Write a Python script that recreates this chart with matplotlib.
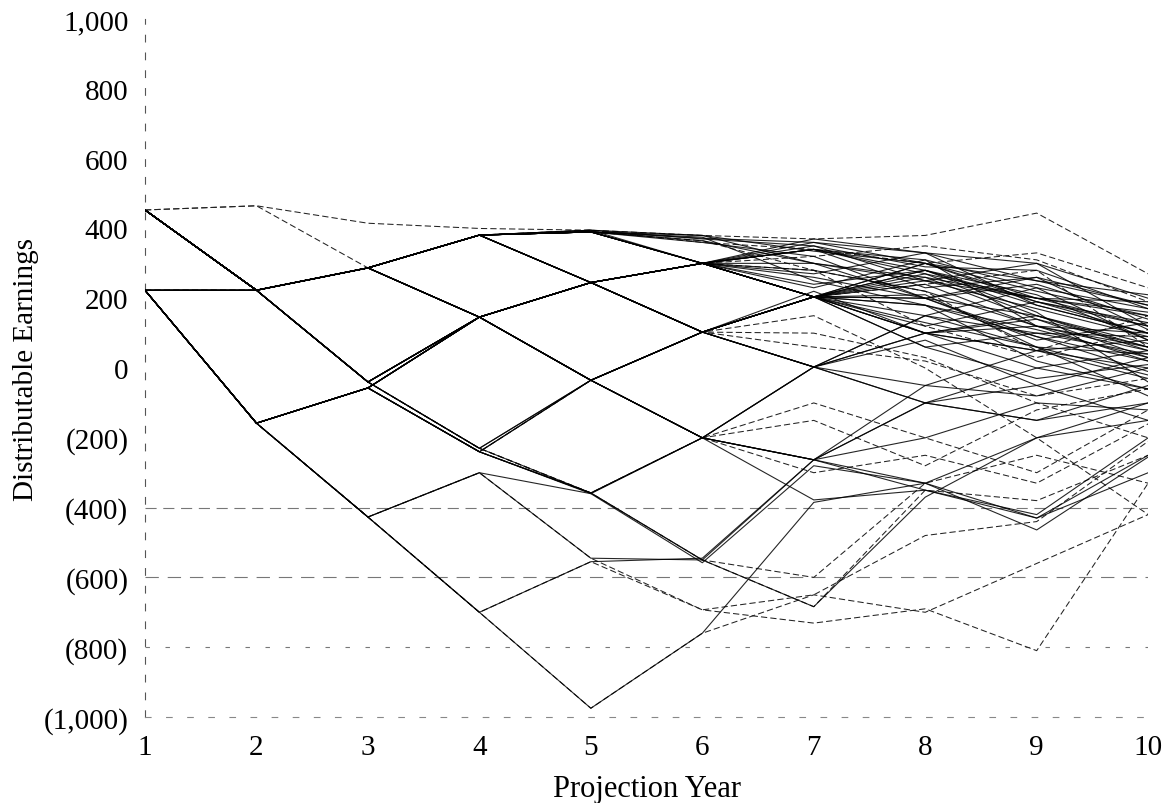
import numpy as np
import matplotlib.pyplot as plt
from matplotlib.ticker import FuncFormatter, MultipleLocator

plt.rcParams['font.family'] = ['Liberation Serif', 'DejaVu Serif']

years = [1, 2, 3, 4, 5, 6, 7, 8, 9, 10]

# scenario paths (distributable earnings by projection year)
scenarios_dark = [
    # lower branches
    [223, -158, -427, -700, -975, -760, -385, -330, -430, -250],
    [223, -158, -427, -700, -555, -545, -263, -100, -50, 30],
    [223, -158, -427, -300, -545, -550, -684, -370, -200, -100],
    [223, -158, -427, -300, -360, -558, -280, -330, -464, -255],
    [223, -158, -57, -240, -360, -200, -263, -100, -150, -50],
    [223, -158, -57, -240, -35, -200, 3, -100, 0, 50],
    [223, -158, -57, 146, -35, 103, 3, 100, 50, 80],
    [223, -158, -57, 146, 245, 103, 204, 100, 150, 60],
    [223, -158, -57, -240, -358, -200, -378, -350, -420, -200],
    [453, 223, -40, 146, -35, -200, -263, -330, -200, -150],
    [453, 223, -40, -230, -358, -550, -263, -350, -430, -300],
    [453, 223, -40, 146, 245, 300, 204, 100, 120, 20],
    [453, 223, 287, 381, 390, 300, 370, 330, 300, 200],
    [453, 223, 287, 381, 245, 300, 204, 270, 200, 150],
    [453, 223, 287, 146, 245, 103, 3, -100, -150, -100],
    [453, 223, 287, 381, 390, 380, 300, 260, 200, 120],
    [223, 223, 287, 381, 395, 300, 204, 280, 180, 100],
    [223, 223, -40, -230, -35, 103, 204, 100, 50, 0],
    # upper bundle
    [453, 223, 287, 381, 390, 372, 360, 330, 250, 180],
    [453, 223, 287, 381, 395, 380, 335, 300, 220, 150],
    [453, 223, 287, 381, 390, 365, 300, 250, 300, 120],
    [453, 223, 287, 381, 390, 300, 340, 280, 190, 130],
    [453, 223, 287, 381, 390, 300, 204, 250, 170, 90],
    [453, 223, 287, 381, 245, 300, 340, 230, 260, 110],
    [453, 223, 287, 381, 245, 300, 204, 260, 140, 60],
    [453, 223, 287, 381, 245, 103, 204, 120, 190, 100],
    [453, 223, 287, 381, 245, 103, 3, 150, 60, 40],
    [453, 223, 287, 146, 245, 300, 260, 200, 150, 70],
    [453, 223, 287, 146, 245, 103, 204, 300, 200, 160],
    [453, 223, 287, 146, -35, 103, 204, 130, 60, -20],
    [453, 223, 287, 146, -35, 103, 3, 100, 0, -60],
    [453, 223, 287, 146, -35, -200, 3, 150, 100, 90],
    [223, 223, 287, 381, 390, 360, 320, 200, 240, 140],
    [223, 223, 287, 381, 245, 300, 270, 330, 180, 100],
    [223, 223, 287, 146, 245, 300, 204, 180, 110, 30],
    [453, 223, -40, 146, 245, 300, 350, 250, 200, 190],
    [453, 223, -40, 146, 245, 103, 204, 240, 120, 50],
    [453, 223, -40, 146, -35, 103, 204, 200, 80, 130],
    [453, 223, -40, 146, -35, -200, -263, -50, -80, 0],
    [453, 223, -40, -230, -35, 103, 3, -50, 50, -30],
    [223, -158, -57, 146, 245, 300, 204, 150, 230, 170],
    [223, -158, -57, 146, 245, 300, 360, 300, 250, 210],
    [223, -158, -57, 146, -35, 103, 204, 280, 210, 80],
    [223, -158, -57, 146, -35, -200, -263, -200, -100, -120],
    [223, -158, -57, -240, -35, 103, 220, 100, 140, 30],
    [223, -158, -57, -240, -358, -200, 3, 80, -50, -150],
    [453, 223, 287, 381, 390, 375, 250, 180, 90, 20],
    [453, 223, 287, 381, 390, 300, 230, 310, 120, 60],
    [453, 223, 287, 381, 245, 300, 300, 200, 90, -10],
    [453, 223, 287, 146, 245, 300, 204, 60, 100, 40],
    [453, 223, -40, 146, 245, 300, 240, 280, 160, -40],
    [223, -158, -57, 146, 245, 103, 204, 210, 60, -80],
    [453, 223, 287, 381, 395, 370, 350, 290, 280, 170],
    [453, 223, 287, 381, 390, 300, 340, 310, 230, 80],
    [223, 223, 287, 381, 390, 300, 204, 200, 260, 180],
    [453, 223, 287, 146, 245, 300, 340, 270, 150, 50],
    [453, 223, -40, 146, 245, 300, 204, 300, 190, 120],
    [223, -158, -57, 146, 245, 300, 280, 220, 120, 100],
    [453, 223, 287, 381, 245, 103, 204, 180, 20, -60],
    [453, 223, 287, 146, 245, 103, 204, 60, -30, 10],
]

scenarios_faint = [
    [453, 465, 415, 400, 395, 380, 370, 380, 444, 270],
    [453, 465, 287, 381, 395, 360, 340, 300, 330, 230],
    [223, 223, 287, 146, 245, 300, 320, 350, 310, 190],
    [223, -158, -427, -700, -555, -693, -731, -690, -810, -330],
    [223, -158, -427, -700, -975, -760, -650, -700, -560, -420],
    [223, -158, -427, -300, -545, -693, -650, -480, -440, -210],
    [453, 223, -40, -230, -358, -550, -684, -350, -380, -250],
    [223, -158, -57, -240, -358, -550, -600, -330, -250, -330],
    [453, 223, -40, -230, -358, -200, -300, -250, -330, -160],
    [223, -158, -57, -240, -35, -200, -150, -280, -120, -60],
    [453, 223, 287, 146, -35, -200, -100, -200, -300, -120],
    [453, 223, -40, 146, -35, 103, 100, 30, -100, -200],
    [223, 223, 287, 381, 245, 103, 60, 20, -80, -30],
    [453, 223, 287, 381, 390, 365, 280, 120, 30, 110],
    [223, -158, -57, 146, 245, 103, 150, 0, -200, -420],
    [453, 223, -40, 146, 245, 300, 204, 240, 280, 60],
    [453, 223, 287, 381, 390, 300, 280, 220, 50, 150],
]


def paren_fmt(v, pos):
    if v < 0:
        return f"({abs(v):,.0f})"
    return f"{v:,.0f}"


fig = plt.figure(figsize=(11.74, 8.04), dpi=100)
ax = fig.add_axes([0.1235, 0.107, 0.8545, 0.868])

# faded dashed gridlines left over in the scan
for level, dash in [(-400, (0, (10, 6))), (-600, (0, (12, 8))), (-800, (0, (4, 14)))]:
    ax.axhline(level, color='#777777', lw=0.8, ls=dash, zorder=1)

for path in scenarios_dark:
    ax.plot(years, path, color='black', lw=0.8, alpha=0.85, zorder=3)
for path in scenarios_faint:
    ax.plot(years, path, color='#222222', lw=0.75, ls=(0, (6, 3)), zorder=2)

ax.set_xlim(1, 10)
ax.set_ylim(-1000, 1000)
ax.xaxis.set_major_locator(MultipleLocator(1))
ax.yaxis.set_major_locator(MultipleLocator(200))
ax.yaxis.set_major_formatter(FuncFormatter(paren_fmt))
ax.tick_params(length=0, labelsize=21)
ax.tick_params(axis='y', pad=12)
ax.tick_params(axis='x', pad=12)

for side in ['top', 'right']:
    ax.spines[side].set_visible(False)
ax.spines['left'].set_linestyle((0, (6, 10)))
ax.spines['left'].set_color('#555555')
ax.spines['left'].set_linewidth(0.8)
ax.spines['bottom'].set_linestyle((0, (5, 14)))
ax.spines['bottom'].set_color('#888888')
ax.spines['bottom'].set_linewidth(0.8)

ax.set_xlabel('Projection Year', fontsize=22, labelpad=10)
ax.set_ylabel('Distributable Earnings', fontsize=21)
ax.yaxis.set_label_coords(-0.106, 0.5)

fig.savefig('out.png', dpi=100)
